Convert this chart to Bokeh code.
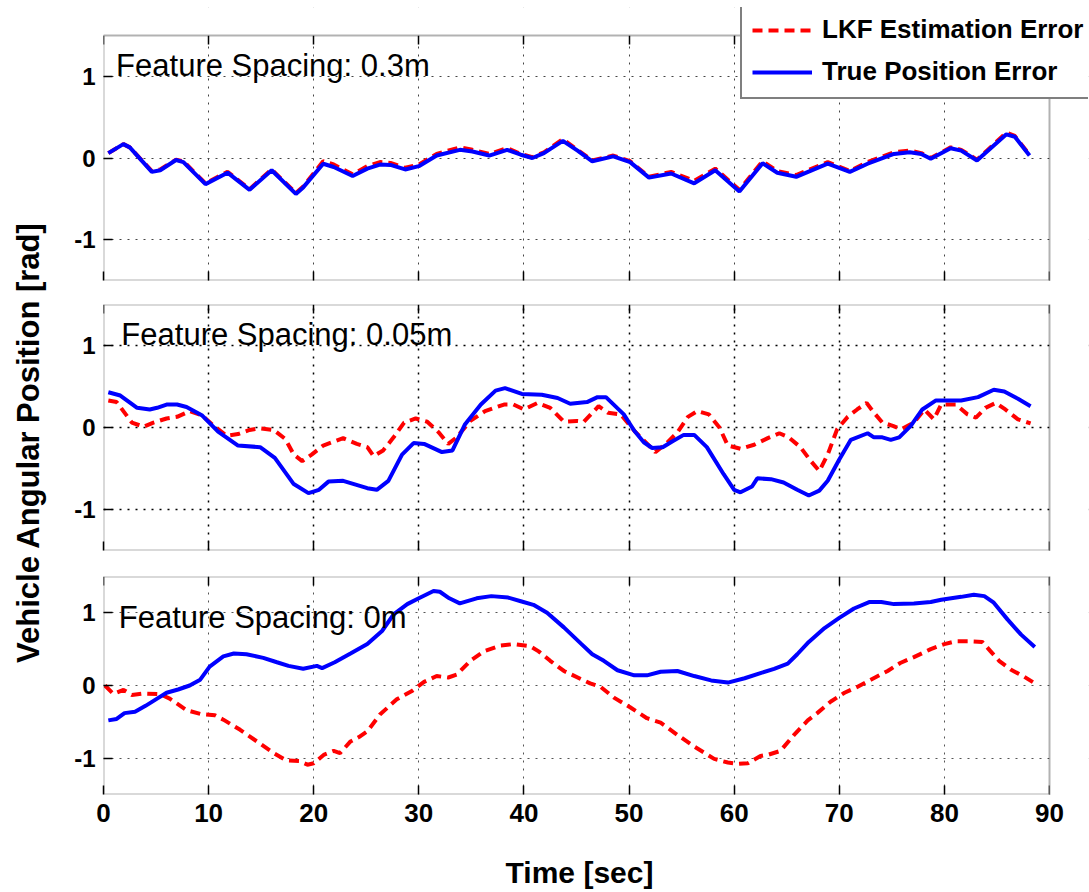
from bokeh.plotting import figure
from bokeh.models import (Range1d, FixedTicker, LinearAxis, Label, Legend, LegendItem, Grid,
                          BoxAnnotation)
from bokeh.layouts import column, row
from bokeh.embed import file_html
from bokeh.resources import INLINE
import math

# ---------------- data ----------------
x_ticks = [0, 10, 20, 30, 40, 50, 60, 70, 80, 90]
y_ticks = [-1, 0, 1]
y_tick_labels = {-1: "-1", 0: "0", 1: "1"}
panel_titles = ["Feature Spacing: 0.3m", "Feature Spacing: 0.05m", "Feature Spacing: 0m"]
series_names = ["LKF Estimation Error", "True Position Error"]
x_label = "Time [sec]"
y_label = "Vehicle Angular Position [rad]"

# Panel 1 (0.3 m)
p1_t = [0.46, 1.89, 2.5, 4.6, 5.4, 6.9, 7.6, 9.7, 11.8, 13.9, 16.0, 18.3, 19.0, 20.9, 21.9,
        23.7, 25.1, 26.3, 27.3, 28.7, 30.0, 31.7, 33.9, 35.1, 36.7, 38.4, 39.7, 40.8, 41.9,
        43.7, 45.1, 46.5, 48.5, 50.1, 51.9, 54.0, 56.2, 58.2, 60.5, 62.7, 64.1, 65.9, 68.9,
        71.0, 72.7, 75.2, 76.7, 77.8, 78.7, 80.6, 81.6, 83.1, 85.9, 86.7, 88.1]
p1_true = [0.06, 0.17, 0.13, -0.17, -0.15, -0.025, -0.05, -0.32, -0.18, -0.39, -0.15, -0.44, -0.36,
           -0.07, -0.11, -0.22, -0.13, -0.08, -0.085, -0.14, -0.10, 0.03, 0.10, 0.08, 0.03, 0.10,
           0.04, 0.0, 0.06, 0.21, 0.09, -0.04, 0.02, -0.05, -0.24, -0.19, -0.31, -0.15, -0.41,
           -0.065, -0.18, -0.23, -0.07, -0.17, -0.07, 0.05, 0.07, 0.05, -0.01, 0.12, 0.09, -0.03,
           0.29, 0.26, 0.03]
p1_lkf = [0.06, 0.17, 0.13, -0.16, -0.14, -0.02, -0.04, -0.31, -0.17, -0.38, -0.14, -0.43, -0.35,
          -0.04, -0.08, -0.20, -0.10, -0.05, -0.06, -0.12, -0.08, 0.05, 0.13, 0.10, 0.05, 0.12,
          0.05, 0.01, 0.07, 0.23, 0.10, -0.03, 0.03, -0.04, -0.23, -0.17, -0.28, -0.13, -0.39,
          -0.04, -0.16, -0.21, -0.05, -0.16, -0.05, 0.07, 0.09, 0.06, 0.0, 0.13, 0.10, -0.02,
          0.31, 0.27, 0.04]

# Panel 2 (0.05 m)
p2_true_t = [0.46, 1.6, 3.2, 4.4, 5.1, 6.0, 7.0, 7.9, 9.35, 10.9, 12.8, 14.9, 16.3, 18.1, 19.5,
             20.5, 21.4, 22.8, 25.1, 26.0, 27.1, 28.4, 29.5, 30.5, 32.2, 33.2, 34.4, 35.9, 37.3,
             38.2, 39.8, 41.7, 43.2, 44.4, 46.0, 47.0, 47.8, 49.5, 50.5, 51.4, 52.2, 53.2, 54.1,
             55.2, 56.2, 57.4, 59.0, 60.0, 60.6, 61.7, 62.2, 63.5, 64.7, 66.0, 67.1, 68.1, 68.9,
             70.0, 71.1, 72.7, 73.3, 74.1, 74.9, 75.7, 76.8, 77.9, 79.2, 81.6, 83.2, 84.7, 85.7,
             87.0, 88.2]
p2_true = [0.43, 0.39, 0.24, 0.22, 0.24, 0.28, 0.28, 0.25, 0.15, -0.05, -0.22, -0.24, -0.37, -0.69,
           -0.80, -0.76, -0.66, -0.65, -0.74, -0.76, -0.65, -0.33, -0.19, -0.20, -0.30, -0.28, 0.04,
           0.28, 0.45, 0.48, 0.41, 0.40, 0.36, 0.29, 0.31, 0.37, 0.37, 0.16, -0.04, -0.18, -0.25,
           -0.24, -0.17, -0.09, -0.09, -0.24, -0.57, -0.76, -0.79, -0.72, -0.62, -0.63, -0.67,
           -0.76, -0.83, -0.77, -0.65, -0.39, -0.15, -0.07, -0.12, -0.12, -0.15, -0.12, 0.02, 0.22,
           0.33, 0.33, 0.37, 0.46, 0.44, 0.35, 0.26]
p2_lkf_t = [0.46, 1.25, 2.7, 3.8, 4.75, 6.0, 7.0, 8.2, 9.35, 10.5, 11.7, 12.8, 13.9, 14.9, 16.2,
            17.3, 18.1, 18.9, 19.8, 20.9, 22.8, 24.1, 25.1, 25.7, 26.6, 27.6, 28.6, 29.7, 30.8,
            31.9, 32.8, 33.6, 34.9, 36.3, 38.1, 39.0, 40.0, 41.3, 42.5, 43.8, 45.0, 45.7, 47.1,
            48.0, 49.2, 50.5, 52.5, 53.5, 54.6, 55.6, 56.5, 57.6, 58.6, 59.4, 60.6, 61.9, 63.2,
            64.3, 65.2, 66.3, 67.3, 68.1, 68.9, 69.8, 70.8, 71.7, 72.6, 73.3, 74.1, 75.1, 75.9,
            77.1, 78.1, 79.0, 79.7, 81.1, 82.2, 83.0, 83.9, 84.9, 85.8, 87.0, 88.2]
p2_lkf = [0.33, 0.31, 0.06, 0.01, 0.06, 0.11, 0.13, 0.20, 0.15, 0.02, -0.10, -0.08, -0.03, -0.01,
          -0.03, -0.14, -0.33, -0.41, -0.33, -0.22, -0.13, -0.20, -0.24, -0.35, -0.28, -0.12, 0.06,
          0.11, 0.07, -0.06, -0.20, -0.12, 0.08, 0.20, 0.28, 0.28, 0.22, 0.30, 0.24, 0.07, 0.08,
          0.07, 0.26, 0.18, 0.16, -0.04, -0.30, -0.20, -0.06, 0.13, 0.20, 0.16, 0.0, -0.22, -0.26,
          -0.21, -0.13, -0.07, -0.12, -0.24, -0.41, -0.53, -0.33, -0.02, 0.13, 0.22, 0.30, 0.18,
          0.06, 0.02, -0.02, 0.06, 0.22, 0.10, 0.28, 0.28, 0.16, 0.12, 0.24, 0.30, 0.22, 0.10, 0.05]

# Panel 3 (0 m)
p3_true_t = [0.46, 1.25, 2.0, 3.0, 4.0, 5.1, 6.0, 7.1, 8.2, 9.2, 10.1, 11.4, 12.4, 13.6, 15.2,
             16.5, 17.6, 19.0, 20.3, 20.8, 22.0, 23.5, 25.1, 26.5, 27.6, 28.9, 30.0, 31.4, 32.0,
             32.9, 33.9, 35.5, 36.9, 38.5, 39.7, 40.9, 42.2, 43.8, 45.4, 46.5, 47.6, 48.9, 50.5,
             51.7, 53.0, 54.6, 56.2, 57.8, 59.4, 61.0, 62.5, 63.8, 65.1, 66.0, 67.1, 68.6, 70.0,
             71.4, 72.9, 74.0, 75.2, 77.1, 78.7, 79.7, 81.6, 82.8, 83.8, 84.7, 86.0, 87.3, 88.6]
p3_true = [-0.48, -0.46, -0.38, -0.36, -0.28, -0.18, -0.10, -0.055, 0.0, 0.08, 0.26, 0.40, 0.44,
           0.43, 0.38, 0.32, 0.27, 0.23, 0.27, 0.24, 0.32, 0.44, 0.57, 0.75, 0.98, 1.12, 1.20, 1.30,
           1.29, 1.20, 1.13, 1.20, 1.23, 1.21, 1.16, 1.11, 1.00, 0.80, 0.58, 0.43, 0.34, 0.21, 0.14,
           0.14, 0.19, 0.20, 0.13, 0.07, 0.04, 0.10, 0.17, 0.23, 0.30, 0.43, 0.60, 0.79, 0.93, 1.06,
           1.15, 1.15, 1.12, 1.13, 1.15, 1.18, 1.22, 1.25, 1.23, 1.14, 0.91, 0.70, 0.53]
p3_lkf_t = [0.14, 0.94, 1.9, 2.7, 3.8, 5.4, 6.3, 7.9, 9.2, 10.6, 11.4, 13.0, 14.6, 16.2, 17.4,
            18.6, 19.4, 20.0, 21.0, 21.9, 22.5, 23.5, 24.3, 25.1, 26.3, 27.9, 29.3, 30.5, 31.7,
            32.8, 33.6, 34.9, 36.2, 37.8, 39.0, 40.6, 41.4, 42.5, 43.8, 45.4, 46.3, 47.3, 48.6,
            50.1, 51.7, 53.0, 54.6, 56.2, 58.1, 59.4, 60.3, 61.3, 62.5, 63.3, 64.4, 65.7, 67.0,
            67.9, 69.2, 70.5, 71.7, 73.0, 74.6, 75.8, 77.1, 78.7, 80.0, 81.1, 82.3, 83.6, 84.4,
            85.2, 86.3, 87.6, 88.6]
p3_lkf = [0.0, -0.115, -0.06, -0.13, -0.11, -0.12, -0.18, -0.34, -0.39, -0.41, -0.47, -0.61, -0.77,
          -0.93, -1.03, -1.04, -1.09, -1.07, -0.95, -0.90, -0.93, -0.77, -0.71, -0.63, -0.40, -0.19,
          -0.08, 0.05, 0.13, 0.11, 0.15, 0.34, 0.47, 0.55, 0.57, 0.54, 0.47, 0.34, 0.20, 0.09, 0.03,
          -0.02, -0.17, -0.30, -0.45, -0.51, -0.68, -0.84, -1.01, -1.06, -1.08, -1.07, -0.97, -0.95,
          -0.90, -0.68, -0.48, -0.38, -0.22, -0.10, -0.02, 0.08, 0.20, 0.31, 0.39, 0.50, 0.57, 0.61,
          0.61, 0.60, 0.47, 0.34, 0.22, 0.12, 0.03]

X_MIN, X_MAX = 0, 90
Y_MIN, Y_MAX = -1.5, 1.5

FONT = "Liberation Sans"
RED = "#ff0000"
BLUE = "#0000ff"
W_TOTAL = 1089
H_TOTAL = 892
YLAB_W = 50                    # strip holding the shared y label
PANEL_W = W_TOTAL - YLAB_W
LEFT = 53                      # left border inside each panel figure
RIGHT = 1
BOX_W = 946                    # plot-box width in pixels
PX_PER_X = BOX_W / (X_MAX - X_MIN)
FRAME_W = PANEL_W - LEFT - RIGHT
X_END = X_MIN + FRAME_W / PX_PER_X


def hidden_ticks_axis(ticks, **kw):
    ax = LinearAxis(ticker=FixedTicker(ticks=ticks), **kw)
    ax.major_label_overrides = {t: "" for t in ticks}
    ax.major_label_text_font_size = "6px"
    ax.major_label_standoff = 0
    return ax


def style_axis(ax):
    ax.axis_line_color = None
    ax.major_tick_in = 9
    ax.major_tick_out = 0
    ax.major_tick_line_color = "black"
    ax.major_tick_line_width = 1.5
    ax.minor_tick_line_color = None
    ax.major_label_text_font = FONT
    ax.major_label_text_font_style = "bold"
    ax.major_label_text_color = "black"


def make_panel(height, top, bottom, box_top_offset, grid_color, grid_width, xlabels):
    frame_h = height - top - bottom
    box_h = frame_h - box_top_offset
    y_end = Y_MIN + frame_h * (Y_MAX - Y_MIN) / box_h
    p = figure(width=PANEL_W, height=height, x_range=Range1d(X_MIN, X_END),
               y_range=Range1d(Y_MIN, y_end), output_backend="svg", toolbar_location=None,
               title=None, x_axis_location=None, y_axis_location=None,
               min_border_left=LEFT, min_border_right=RIGHT, min_border_top=top,
               min_border_bottom=bottom)
    p.background_fill_color = "white"
    p.border_fill_color = "white"
    p.outline_line_color = None
    p.xgrid.visible = False
    p.ygrid.visible = False

    gx = Grid(dimension=0, ticker=FixedTicker(ticks=x_ticks[1:-1]))
    gy = Grid(dimension=1, ticker=FixedTicker(ticks=y_ticks))
    for g in (gx, gy):
        g.grid_line_color = grid_color
        g.grid_line_width = grid_width
        g.grid_line_dash = "2 6"
        p.add_layout(g)

    left = LinearAxis(ticker=FixedTicker(ticks=y_ticks), major_label_overrides=y_tick_labels)
    left.major_label_text_font_size = "24px"
    left.major_label_standoff = 8
    if xlabels:
        bottom_ax = LinearAxis(ticker=FixedTicker(ticks=x_ticks))
        bottom_ax.major_label_text_font_size = "26px"
        bottom_ax.major_label_standoff = 9
    else:
        bottom_ax = hidden_ticks_axis(x_ticks)
    top_ax = hidden_ticks_axis(x_ticks, fixed_location=Y_MAX)
    for ax in (left, bottom_ax, top_ax):
        style_axis(ax)
    p.add_layout(left, "left")
    p.add_layout(bottom_ax, "below")
    p.add_layout(top_ax, "above")
    return p, y_end


def finish_box(p, y_end):
    # white masks outside the plot box (extending past the frame), then the box outline
    far_x = X_END + 20
    far_y = y_end + 1
    p.add_layout(BoxAnnotation(left=X_MIN - 20, right=far_x, bottom=Y_MAX, top=far_y,
                               fill_color="white", fill_alpha=1, line_color=None))
    p.add_layout(BoxAnnotation(left=X_MAX, right=far_x, bottom=Y_MIN - 1, top=far_y,
                               fill_color="white", fill_alpha=1, line_color=None))
    p.add_layout(BoxAnnotation(left=X_MIN, right=X_MAX, bottom=Y_MIN, top=Y_MAX, fill_alpha=0,
                               line_color="black", line_width=2))


P1_H, P2_H, P3_H = 292, 271, 279
p1, y_end1 = make_panel(P1_H, 7, 12, 28, "#444444", 1, False)
p2, y_end2 = make_panel(P2_H, 12, 13, 0, "#000000", 1.5, False)
p3, y_end3 = make_panel(P3_H, 13, 48, 0, "#555555", 1, True)

r1_lkf = p1.line(p1_t, p1_lkf, line_color=RED, line_width=4, line_dash="10 6")
r1_true = p1.line(p1_t, p1_true, line_color=BLUE, line_width=4)
p2.line(p2_lkf_t, p2_lkf, line_color=RED, line_width=4, line_dash="10 6")
p2.line(p2_true_t, p2_true, line_color=BLUE, line_width=4)
p3.line(p3_lkf_t, p3_lkf, line_color=RED, line_width=4, line_dash="10 6")
p3.line(p3_true_t, p3_true, line_color=BLUE, line_width=4)

for p, ye, title, tx, ty in ((p1, y_end1, panel_titles[0], 1.2, 1.13),
                             (p2, y_end2, panel_titles[1], 1.7, 1.13),
                             (p3, y_end3, panel_titles[2], 1.45, 0.94)):
    p.add_layout(Label(x=tx, y=ty, text=title, text_font=FONT, text_font_size="31px",
                       text_color="black", text_baseline="alphabetic", text_align="left"))
    finish_box(p, ye)

legend = Legend(items=[LegendItem(label=series_names[0], renderers=[r1_lkf]),
                       LegendItem(label=series_names[1], renderers=[r1_true])],
                location=(637, 181), margin=0, padding=10, spacing=11,
                glyph_width=60, glyph_height=30, label_height=30, label_standoff=10,
                label_text_font=FONT, label_text_font_style="bold", label_text_font_size="26px",
                label_text_color="black",
                border_line_color="black", border_line_width=2, background_fill_color="white",
                background_fill_alpha=1.0)
p1.add_layout(legend)

# strip figures that carry the shared axis titles (pixel-unit ranges)
STACK_H = P1_H + P2_H + P3_H
XLAB_H = H_TOTAL - STACK_H


def text_strip(width, height):
    f = figure(width=width, height=height, x_range=Range1d(0, width), y_range=Range1d(0, height),
               output_backend="svg", toolbar_location=None, title=None,
               x_axis_location=None, y_axis_location=None, min_border=0)
    f.outline_line_color = None
    f.xgrid.visible = False
    f.ygrid.visible = False
    f.background_fill_color = "white"
    f.border_fill_color = "white"
    return f


ylab = text_strip(YLAB_W, STACK_H)
ylab.add_layout(Label(x=28, y=STACK_H - 442, text=y_label, angle=math.pi / 2, text_font=FONT,
                      text_font_style="bold", text_font_size="31px", text_align="center",
                      text_baseline="middle", text_color="black"))
xlab = text_strip(W_TOTAL, XLAB_H)
xlab.add_layout(Label(x=579, y=XLAB_H - (872 - STACK_H), text=x_label, text_font=FONT,
                      text_font_style="bold", text_font_size="30px", text_align="center",
                      text_baseline="alphabetic", text_color="black"))

layout = column(row(ylab, column(p1, p2, p3, spacing=0), spacing=0), xlab, spacing=0)
open("out.html", "w").write(file_html(layout, INLINE))
